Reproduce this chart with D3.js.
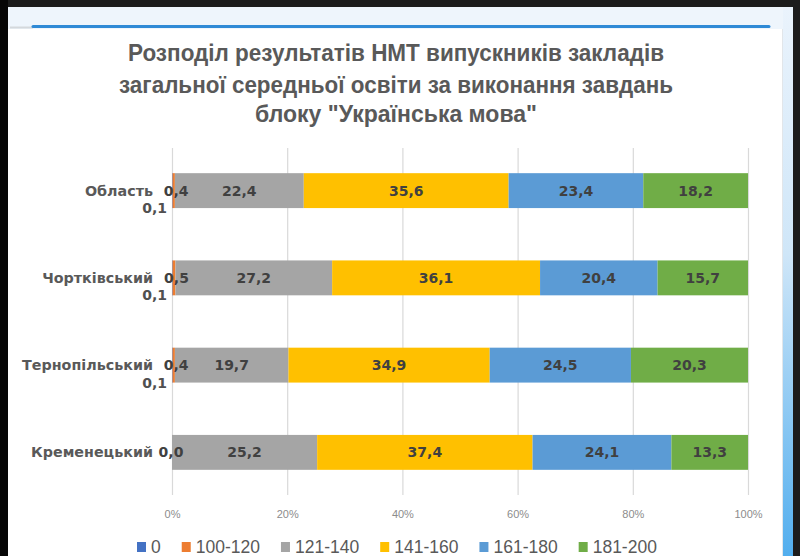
<!DOCTYPE html>
<html><head><meta charset="utf-8">
<script src="https://cdn.jsdelivr.net/npm/d3@7"></script>
<style>html,body{margin:0;padding:0;background:#1b1b1b;}svg{display:block;}</style>
</head><body>
<svg id="c" width="800" height="556"></svg>
<script>
const titleLines = ["Розподіл результатів НМТ випускників закладів","загальної середньої освіти за виконання завдань","блоку \"Українська мова\""];
const categories = ["Область","Чортківський","Тернопільський","Кременецький"];
const seriesNames = ["0","100-120","121-140","141-160","161-180","181-200"];
const s0      = [0.1, 0.1, 0.1, null];
const s100_120 = [0.4, 0.5, 0.4, 0.0];
const s121_140 = [22.4, 27.2, 19.7, 25.2];
const s141_160 = [35.6, 36.1, 34.9, 37.4];
const s161_180 = [23.4, 20.4, 24.5, 24.1];
const s181_200 = [18.2, 15.7, 20.3, 13.3];
const xTicks = [0, 0.2, 0.4, 0.6, 0.8, 1];
const colors = ["#4472c4","#ed7d31","#a5a5a5","#ffc000","#5b9bd5","#70ad47"];

const seriesValues = [s0, s100_120, s121_140, s141_160, s161_180, s181_200];
const table = categories.map((c, i) => {
  const row = {cat: c};
  seriesNames.forEach((s, j) => row[s] = seriesValues[j][i]);
  return row;
});

const svg = d3.select("#c");
const W = 800, H = 556;

// screenshot frame
svg.append("rect").attr("width", W).attr("height", H).attr("fill", "#1c1c1c");
svg.append("rect").attr("x", 0).attr("y", 0).attr("width", 8).attr("height", H).attr("fill", "#060606");
svg.append("rect").attr("x", 8).attr("y", 7).attr("width", 785).attr("height", H - 7).attr("fill", "#eef5fc");
const defs = svg.append("defs");
const g1 = defs.append("linearGradient").attr("id", "rs").attr("x1", 0).attr("y1", 0).attr("x2", 0).attr("y2", 1);
g1.append("stop").attr("offset", "0%").attr("stop-color", "#eaf3fc");
g1.append("stop").attr("offset", "45%").attr("stop-color", "#cfe6f8");
g1.append("stop").attr("offset", "100%").attr("stop-color", "#52aeee");
svg.append("rect").attr("x", 783).attr("y", 7).attr("width", 10).attr("height", H - 7).attr("fill", "url(#rs)");
svg.append("rect").attr("x", 8).attr("y", 29).attr("width", 775).attr("height", H - 29).attr("fill", "#ffffff");
svg.append("line").attr("x1", 782.5).attr("x2", 782.5).attr("y1", 29).attr("y2", H).attr("stroke", "#e2e6ea");
svg.append("line").attr("x1", 10).attr("x2", 33).attr("y1", 27.5).attr("y2", 27.5).attr("stroke", "#d4d8dc").attr("stroke-width", 2);
svg.append("line").attr("x1", 33).attr("x2", 769).attr("y1", 26.5).attr("y2", 26.5)
  .attr("stroke", "#2f8ad6").attr("stroke-width", 3).attr("stroke-linecap", "round");

// title
const titleY = [53, 85, 114];
const titleW = [536, 554, 282];
svg.append("g").selectAll("text").data(titleLines).join("text")
  .attr("x", 396).attr("y", (d, i) => titleY[i])
  .attr("text-anchor", "middle").attr("dominant-baseline", "central")
  .attr("font-family", "'Liberation Sans Narrow','Liberation Sans',Arial,sans-serif")
  .attr("font-weight", "bold").attr("font-size", 23.5).attr("fill", "#595959")
  .attr("textLength", (d, i) => titleW[i]).attr("lengthAdjust", "spacingAndGlyphs")
  .text(d => d);

// scales
const x = d3.scaleLinear().domain([0, 1]).range([172, 748]);
const y = d3.scaleBand().domain(categories).range([147, 496]).paddingInner(0.6).paddingOuter(0.3);

// grid
svg.append("g").selectAll("line").data(xTicks).join("line")
  .attr("x1", d => x(d) + 0.5).attr("x2", d => x(d) + 0.5)
  .attr("y1", 148).attr("y2", 495)
  .attr("stroke", "#d9d9d9").attr("stroke-width", 1.2);

// x tick labels
const xAxis = d3.axisBottom(x).tickValues(xTicks).tickFormat(d3.format(".0%")).tickSize(0).tickPadding(0);
const ax = svg.append("g").attr("transform", "translate(0,510)").call(xAxis);
ax.select(".domain").remove();
ax.selectAll("text").attr("font-family", "'Liberation Sans',Arial,sans-serif").attr("font-size", 11)
  .attr("fill", "#8c8c8c").attr("dy", "0.3em").attr("y", 5);

// stack
const stack = d3.stack().keys(seriesNames).value((d, k) => d[k] == null ? 0 : d[k]).offset(d3.stackOffsetExpand);
const stacked = stack(table);

const layers = svg.append("g").selectAll("g").data(stacked).join("g").attr("fill", (d, i) => colors[i]);
layers.selectAll("rect").data(d => d).join("rect")
  .attr("x", d => x(d[0])).attr("width", d => Math.max(0, x(d[1]) - x(d[0])))
  .attr("y", d => y(d.data.cat)).attr("height", y.bandwidth());

// category labels
svg.append("g").selectAll("text").data(categories).join("text")
  .attr("x", 153).attr("y", d => y(d) + y.bandwidth() / 2)
  .attr("text-anchor", "end").attr("dominant-baseline", "central")
  .attr("font-family", "'DejaVu Sans',Verdana,sans-serif").attr("font-weight", "bold")
  .attr("font-size", 14.3).attr("fill", "#595959").text(d => d);

// data labels
const fmt = v => d3.format(".1f")(v).replace(".", ",");
const labelG = svg.append("g").attr("font-family", "'DejaVu Sans',Verdana,sans-serif")
  .attr("font-weight", "bold").attr("font-size", 14);
stacked.forEach((layer, si) => {
  layer.forEach((d, ci) => {
    const v = seriesValues[si][ci];
    if (v == null) return;
    const yc = y(d.data.cat) + y.bandwidth() / 2;
    if (si === 0) {
      labelG.append("text").attr("x", x(0) - 5).attr("y", yc + 17.5)
        .attr("text-anchor", "end").attr("dominant-baseline", "central")
        .attr("fill", "#505050").text(fmt(v));
    } else {
      let xc = (x(d[0]) + x(d[1])) / 2;
      if (si === 1) xc += (v === 0 ? -1 : 2.5);
      labelG.append("text").attr("x", xc).attr("y", yc)
        .attr("text-anchor", "middle").attr("dominant-baseline", "central")
        .attr("fill", "#404040").text(fmt(v));
    }
  });
});

// legend
const leg = svg.append("g");
let lx = 137;
const ly = 547;
seriesNames.forEach((s, i) => {
  const item = leg.append("g");
  item.append("rect").attr("x", lx).attr("y", ly - 5).attr("width", 9).attr("height", 10).attr("fill", colors[i]);
  const t = item.append("text").attr("x", lx + 14).attr("y", ly)
    .attr("dominant-baseline", "central")
    .attr("font-family", "'Liberation Sans',Arial,sans-serif").attr("font-size", 17.5)
    .attr("fill", "#595959").text(s);
  lx += 14 + t.node().getComputedTextLength() + 21;
});
</script>
</body></html>
